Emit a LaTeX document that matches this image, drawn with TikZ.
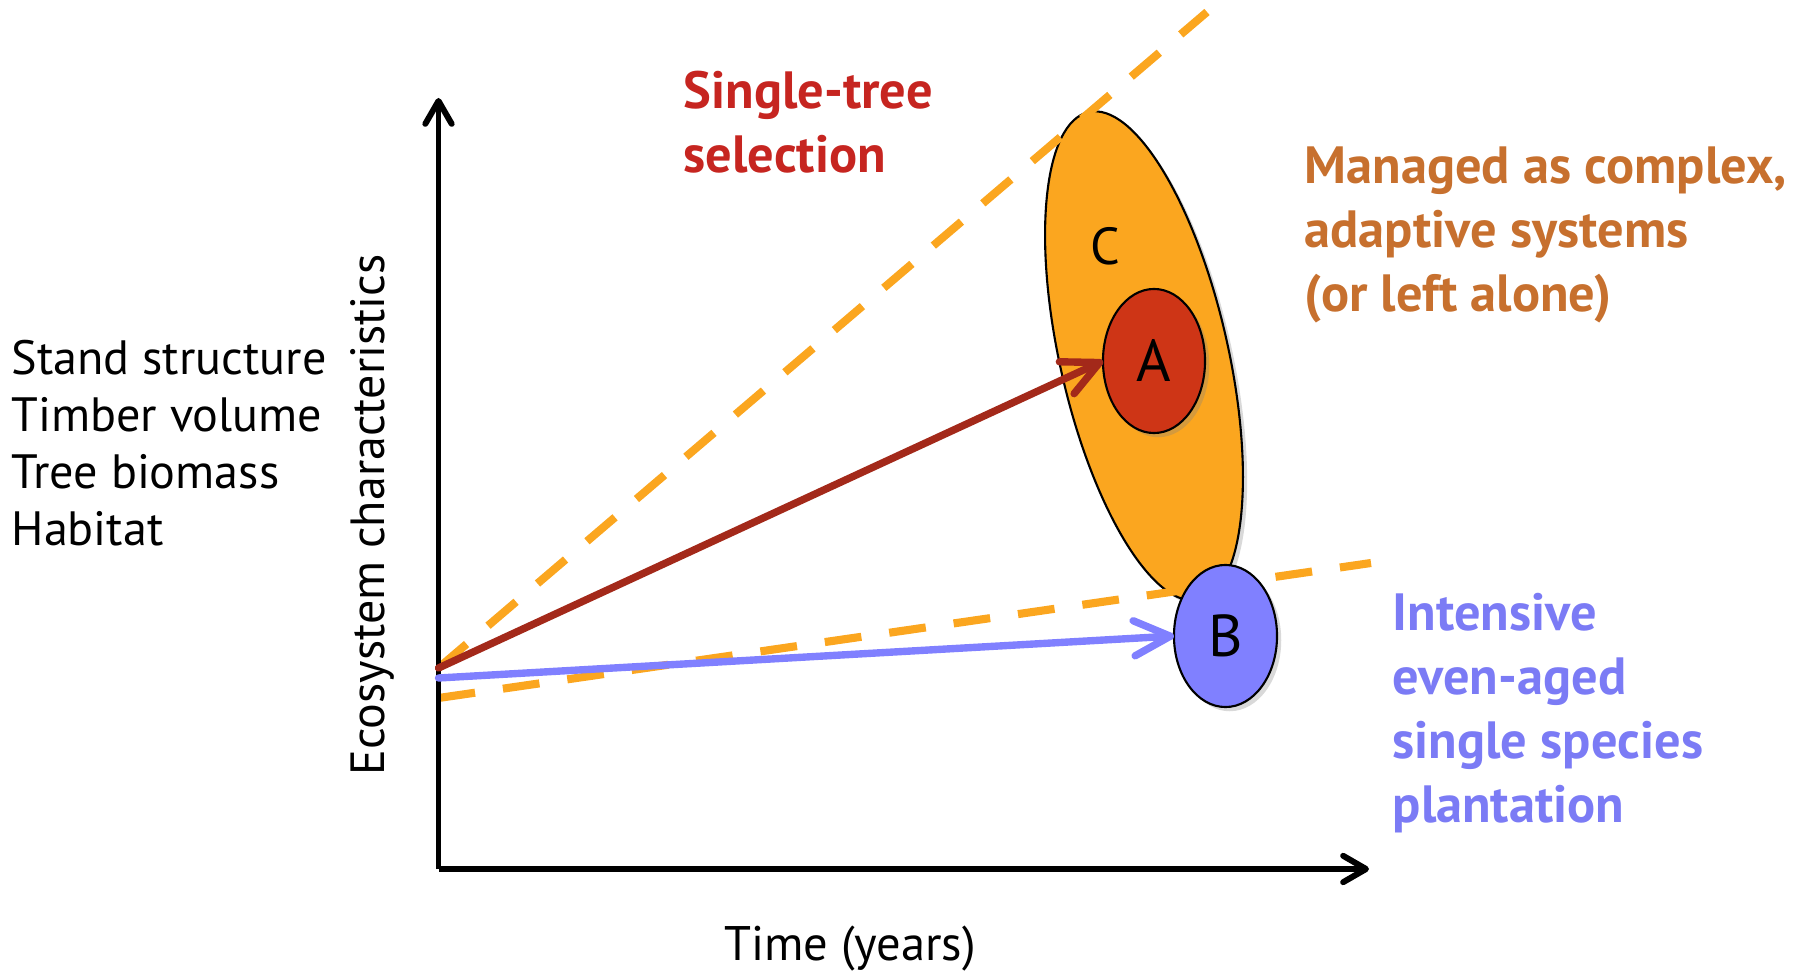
\documentclass[tikz,border=0pt]{standalone}
\usepackage{fontspec}
\setmainfont{PT Sans}
\usetikzlibrary{arrows.meta,shapes.geometric,shadows}
\definecolor{orng}{HTML}{FBA61F}
\definecolor{redfill}{HTML}{CE3516}
\definecolor{bluefill}{HTML}{8080FF}
\definecolor{redarrow}{HTML}{A3291A}
\definecolor{redtext}{HTML}{C62520}
\definecolor{orangetext}{HTML}{C7702E}
\definecolor{bluetext}{HTML}{7B7BF5}
\tikzset{
  axisline/.style={line width=1.7pt, -{Straight Barb[length=6.5pt,width=7.5pt,round]}},
  guide/.style={orng, line width=2.3pt, dash pattern=on 10.5pt off 8pt},
  trend/.style={line width=2.1pt, line cap=round, -{Straight Barb[length=10.3pt,width=10pt,round]}},
  blob/.style={draw=black, line width=0.6pt, inner sep=0pt, outer sep=0pt,
    drop shadow={opacity=0.3, shadow xshift=1.2pt, shadow yshift=-1.2pt}},
  bodytext/.style={inner sep=0pt, align=left, font=\fontsize{13.7}{16.2}\selectfont},
  boldlabel/.style={inner sep=0pt, align=left, font=\fontsize{14.9}{18.2}\selectfont\bfseries},
}
\begin{document}
\begin{tikzpicture}[x=0.01cm,y=0.01cm]
\useasboundingbox (0,0) rectangle (1814,975);
% coordinates
\coordinate (O) at (438.5,106);
\coordinate (ytop) at (438.5,877);
\coordinate (xend) at (1369,106);
\coordinate (g1s) at (438.5,307);
\coordinate (g1e) at (1207,963);
\coordinate (g2s) at (438.5,277);
\coordinate (g2e) at (1371,412);
\coordinate (rs) at (438.5,307);
\coordinate (bs) at (438.5,297);
% ellipse C
\node[blob, ellipse, fill=orng, minimum width=5cm, minimum height=1.68cm, rotate=102.8] (C) at (1144,619) {};
\node[inner sep=0pt, font=\fontsize{14.8}{17}\selectfont] (Clab) at (1105,729) {C};
% guides
\draw[guide] (g1s) -- (g1e);
\draw[guide] (g2s) -- (g2e);
% A and B
\node[blob, ellipse, fill=redfill, minimum width=1.02cm, minimum height=1.44cm, font=\fontsize{16.8}{20}\selectfont] (A) at (1154,614) {A};
\node[blob, ellipse, fill=bluefill, minimum width=1.03cm, minimum height=1.42cm, font=\fontsize{16.8}{20}\selectfont] (B) at (1225.5,339) {B};
% axes
\draw[axisline] (O) -- (ytop);
\draw[axisline] (O) -- (xend);
% arrows
\draw[trend, redarrow] (rs) -- (A.west);
\draw[trend, bluefill] (bs) -- (B.west);
% texts
\node[bodytext, anchor=west] (list) at (11,531.5) {Stand structure\\Timber volume\\Tree biomass\\Habitat};
\node[inner sep=0pt, rotate=90, font=\fontsize{13.65}{16}\selectfont] (ylab) at (372.5,460) {Ecosystem characteristics};
\node[inner sep=0pt, font=\fontsize{13.8}{16}\selectfont] (xlab) at (850,26) {Time (years)};
\node[boldlabel, anchor=west, text=redtext] (sel) at (683,853) {Single-tree\\selection};
\node[boldlabel, anchor=west, text=orangetext] (cas) at (1304,740.5) {Managed as complex,\\adaptive systems\\(or left alone)};
\node[boldlabel, anchor=west, text=bluetext] (plant) at (1392,262) {Intensive\\even-aged\\single species\\plantation};
\end{tikzpicture}
\end{document}
